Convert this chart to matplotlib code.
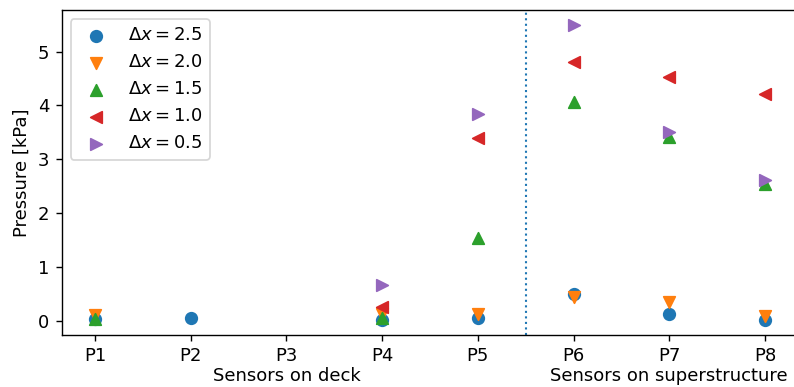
import numpy as np
import matplotlib
matplotlib.use("Agg")
import matplotlib.pyplot as plt
import matplotlib.transforms as mtransforms

sensors = ["P1", "P2", "P3", "P4", "P5", "P6", "P7", "P8"]
nan = np.nan

# pression max mesuree par capteur pour chaque pas de maillage
p_dx25 = [0.03, 0.05, nan, 0.02, 0.045, 0.49, 0.12, 0.01]
p_dx20 = [0.10, nan, nan, 0.12, 0.12, 0.44, 0.35, 0.08]
p_dx15 = [0.04, nan, nan, 0.06, 1.53, 4.07, 3.41, 2.54]
p_dx10 = [nan, nan, nan, 0.25, 3.40, 4.81, 4.53, 4.22]
p_dx05 = [nan, nan, nan, 0.66, 3.85, 5.50, 3.50, 2.62]

series = [
    (p_dx25, "o", r"$\Delta x = 2.5$"),
    (p_dx20, "v", r"$\Delta x = 2.0$"),
    (p_dx15, "^", r"$\Delta x = 1.5$"),
    (p_dx10, "<", r"$\Delta x = 1.0$"),
    (p_dx05, ">", r"$\Delta x = 0.5$"),
]

plt.rcParams["font.size"] = 10.4

fig = plt.figure(figsize=(794 / 125, 387 / 125), dpi=125)
ax = fig.add_axes([61.5 / 794, 52 / 387, 737 / 794, 325 / 387])

x = np.arange(len(sensors))
for vals, m, lab in series:
    ax.scatter(x, vals, marker=m, s=44, label=lab)

# separation pont / superstructure
ax.axvline(4.5, linestyle=":", color="C0", linewidth=1.2)

ax.set_xticks(x)
ax.set_xticklabels(sensors)
ax.set_ylabel("Pressure [kPa]")

trans = mtransforms.blended_transform_factory(ax.transData, ax.transAxes)
ax.text(2, -0.127, "Sensors on deck", transform=trans, ha="center", va="center")
ax.text(6, -0.127, "Sensors on superstructure", transform=trans, ha="center", va="center")

ax.legend(loc="upper left")

fig.savefig("out.png", dpi=125)
